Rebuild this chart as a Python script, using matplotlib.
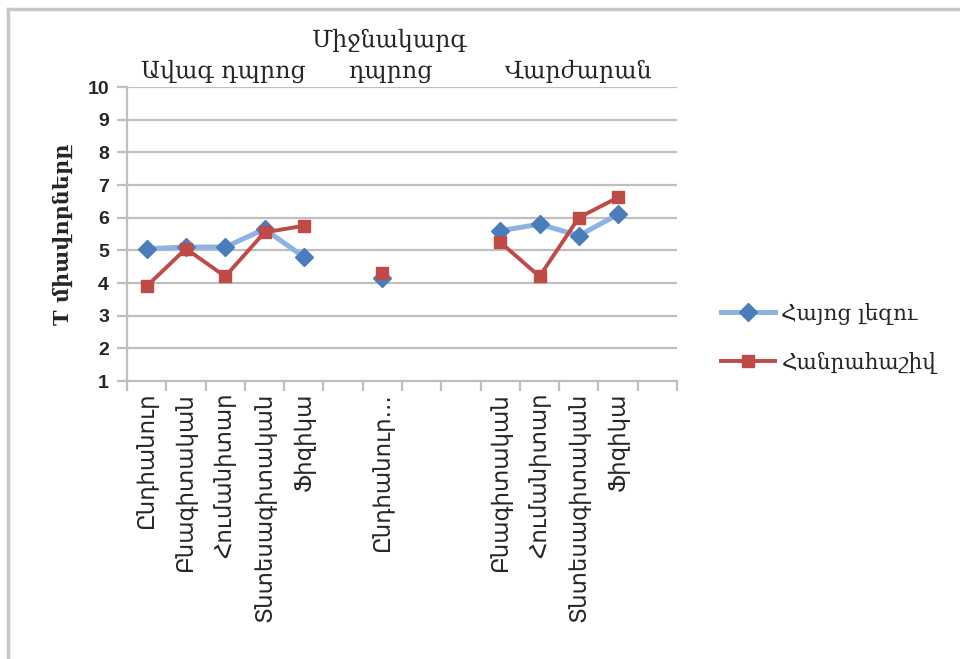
import numpy as np
import matplotlib
matplotlib.use("Agg")
import matplotlib.pyplot as plt
from matplotlib.lines import Line2D

plt.rcParams['font.family'] = ['DejaVu Serif', 'DejaVu Sans']

# categories (empty strings are the gaps between school groups)
categories = ["Ընդհանուր", "Բնագիտական", "Հումանիտար", "Տնտեսագիտական", "Ֆիզիկա",
              "", "Ընդհանուր...", "", "",
              "Բնագիտական", "Հումանիտար", "Տնտեսագիտական", "Ֆիզիկա", ""]

armenian = [5.05, 5.1, 5.1, 5.65, 4.8, np.nan, 4.15, np.nan, np.nan, 5.6, 5.8, 5.45, 6.1, np.nan]
math_vals = [3.9, 5.05, 4.2, 5.55, 5.75, np.nan, 4.3, np.nan, np.nan, 5.25, 4.2, 6.0, 6.62, np.nan]

series_names = ["Հայոց լեզու", "Հանրահաշիվ"]
group_names = ["Ավագ դպրոց", "Միջնակարգ\nդպրոց", "Վարժարան"]
group_pos = [1.95, 6.2, 11.0]

y_ticks = list(range(1, 11))
y_label = "T միավորները"

fig = plt.figure(figsize=(9.6, 6.59), dpi=100)
ax = fig.add_axes([127 / 960, 1 - 381 / 659, 550 / 960, 294 / 659])

x = np.arange(len(categories))
grid_c = "#BFBFBF"
text_c = "#262626"

# plot the two series
ax.plot(x, armenian, color="#8DB3E2", linewidth=3.6, marker="D", markersize=9.5,
        markerfacecolor="#4A7EBB", markeredgecolor="#4A7EBB", label=series_names[0], zorder=3)
ax.plot(x, math_vals, color="#BE4B48", linewidth=2.8, marker="s", markersize=9,
        markerfacecolor="#BE4B48", markeredgecolor="#BE4B48", label=series_names[1], zorder=4)

ax.set_xlim(-0.5, len(categories) - 0.5)
ax.set_ylim(1, 10)
ax.set_yticks(y_ticks)
for t in y_ticks[1:]:
    ax.axhline(t, color=grid_c, linewidth=1.6, zorder=1)

for s in ["top", "right"]:
    ax.spines[s].set_visible(False)
ax.spines["left"].set_color(grid_c)
ax.spines["left"].set_linewidth(1.6)
ax.spines["bottom"].set_color(grid_c)
ax.spines["bottom"].set_linewidth(1.6)

ax.tick_params(axis="y", length=7, width=1.6, color=grid_c, pad=6,
               labelsize=14, labelcolor=text_c)
for lbl in ax.get_yticklabels():
    lbl.set_fontfamily(["Liberation Sans", "DejaVu Sans"])
    lbl.set_fontweight("bold")

# category boundaries as ticks, labels centered in slots
ax.set_xticks(np.arange(len(categories) + 1) - 0.5)
ax.set_xticklabels([])
ax.tick_params(axis="x", length=7, width=1.6, color=grid_c)
for i, c in enumerate(categories):
    ax.text(i, -0.04, c, transform=ax.get_xaxis_transform(), rotation=90,
            ha="center", va="top", fontsize=16.5, color=text_c,
            family=["DejaVu Sans"])

ax.set_ylabel(y_label, fontsize=15, color=text_c, fontweight="bold", labelpad=10)

# group headers above plot
for gx, gname in zip(group_pos, group_names):
    ax.text(gx, 1.015, gname, transform=ax.get_xaxis_transform(), ha="center",
            va="bottom", fontsize=17, color=text_c, linespacing=1.4)

leg = ax.legend(loc="center left", bbox_to_anchor=(1.045, 0.145), frameon=False,
                fontsize=15.5, handlelength=2.5, labelspacing=1.25, handletextpad=0.3)
for t in leg.get_texts():
    t.set_color(text_c)

# outer frame (top and left edges visible)
fig.add_artist(Line2D([8 / 960, 1], [1 - 9 / 659, 1 - 9 / 659], color="#C8C8C8", linewidth=2.5))
fig.add_artist(Line2D([8 / 960, 8 / 960], [0, 1 - 9 / 659], color="#C8C8C8", linewidth=2.5))

fig.savefig("out.png", dpi=100)
